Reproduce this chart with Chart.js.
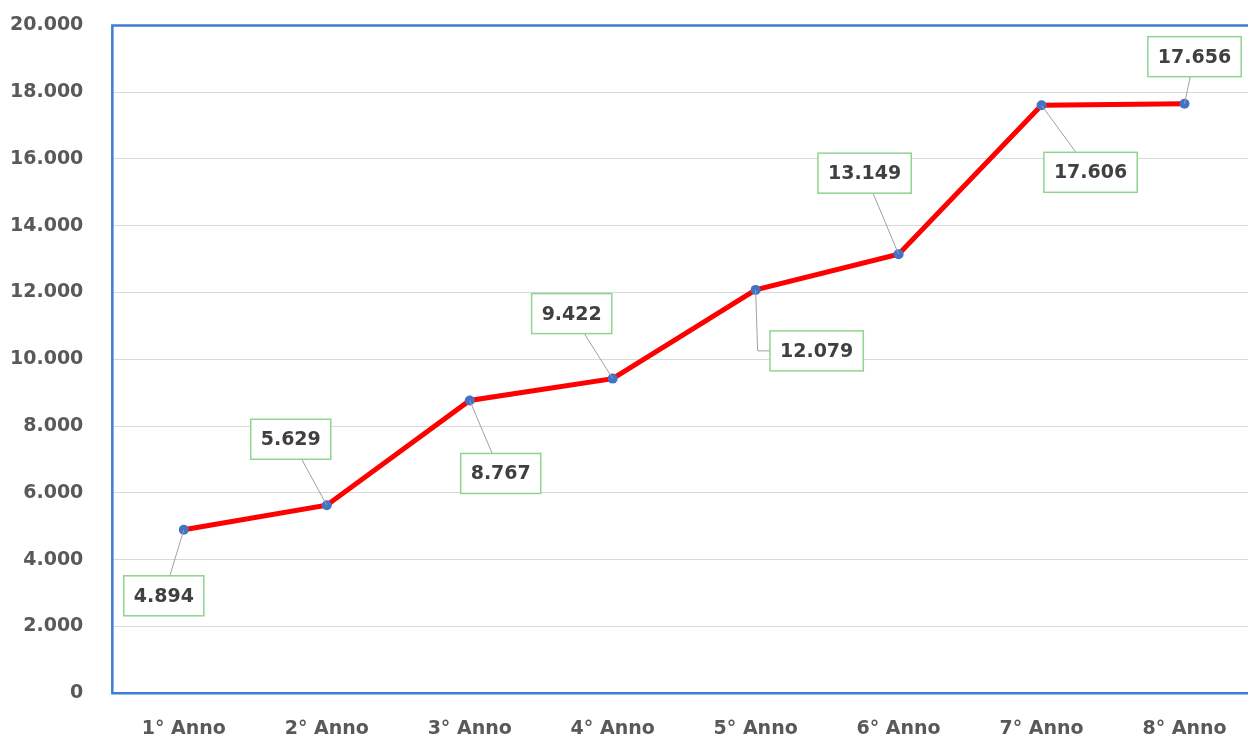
<!DOCTYPE html>
<html>
<head>
<meta charset="utf-8">
<script src="https://cdn.jsdelivr.net/npm/chart.js@4"></script>
<style>
  html, body { margin: 0; padding: 0; background: #fff; overflow: hidden; }
  #wrap { position: absolute; left: 0; top: -15px; width: 1262px; height: 755px; }
</style>
</head>
<body>
<div id="wrap"><canvas id="growthChart"></canvas></div>
<script>
const years = ["1° Anno", "2° Anno", "3° Anno", "4° Anno", "5° Anno", "6° Anno", "7° Anno", "8° Anno"];
const values = [4894, 5629, 8767, 9422, 12079, 13149, 17606, 17656];
const yTicks = [0, 2000, 4000, 6000, 8000, 10000, 12000, 14000, 16000, 18000, 20000];

// Italian number format: 12079 -> "12.079"
function fmt(v) {
  return String(v).replace(/\B(?=(\d{3})+(?!\d))/g, ".");
}

// blue frame around the plot area (left, top, bottom)
const frame = {
  id: "frame",
  beforeDatasetsDraw(chart) {
    const { ctx, chartArea: a } = chart;
    ctx.save();
    ctx.strokeStyle = "#3f7cd6";
    ctx.lineWidth = 2.5;
    ctx.beginPath();
    ctx.moveTo(a.right + 5, a.top);
    ctx.lineTo(a.left, a.top);
    ctx.lineTo(a.left, a.bottom);
    ctx.lineTo(a.right + 5, a.bottom);
    ctx.stroke();
    ctx.restore();
  },
};

// boxed data labels with leader lines
const boxLabels = {
  id: "boxLabels",
  afterDatasetsDraw(chart, args, opts) {
    const { ctx } = chart;
    const meta = chart.getDatasetMeta(0);
    ctx.save();
    ctx.font = "bold 19px 'DejaVu Sans'";
    meta.data.forEach((pt, i) => {
      const text = fmt(chart.data.datasets[0].data[i]);
      const off = opts.offsets[i];
      const w = ctx.measureText(text).width + 20;
      const h = 40;
      const cx = pt.x + off[0];
      const cy = pt.y + off[1];
      ctx.strokeStyle = "#a0a0a0";
      ctx.lineWidth = 1;
      ctx.beginPath();
      ctx.moveTo(pt.x, pt.y);
      if (opts.elbow.includes(i)) {
        // down, then across to the left side of the box
        ctx.lineTo(pt.x + 2, cy);
        ctx.lineTo(cx - w / 2, cy);
      } else {
        // straight: point -> box edge
        const dx = cx - pt.x, dy = cy - pt.y;
        const s = Math.min((w / 2) / Math.abs(dx || 1e-6), (h / 2) / Math.abs(dy || 1e-6));
        ctx.lineTo(cx - dx * s, cy - dy * s);
      }
      ctx.stroke();
      // box
      ctx.fillStyle = "#ffffff";
      ctx.fillRect(cx - w / 2, cy - h / 2, w, h);
      ctx.strokeStyle = "#8fd48f";
      ctx.lineWidth = 1.5;
      ctx.strokeRect(cx - w / 2, cy - h / 2, w, h);
      // text
      ctx.fillStyle = "#404040";
      ctx.textAlign = "center";
      ctx.textBaseline = "middle";
      ctx.fillText(text, cx, cy + 1);
    });
    ctx.restore();
  },
};

const ctx = document.getElementById("growthChart").getContext("2d");
new Chart(ctx, {
  type: "line",
  data: {
    labels: years,
    datasets: [
      {
        data: values,
        borderColor: "#ff0000",
        borderWidth: 5,
        tension: 0,
        fill: false,
        pointRadius: 5,
        pointBackgroundColor: "#4472c4",
        pointBorderWidth: 0,
      },
    ],
  },
  options: {
    responsive: true,
    maintainAspectRatio: false,
    animation: false,
    layout: { padding: { left: -19, top: 1, right: 6, bottom: -24 } },
    plugins: {
      legend: { display: false },
      tooltip: { enabled: false },
      boxLabels: {
        offsets: [[-20, 66], [-36, -66], [31, 73], [-41, -65], [61, 61], [-34, -81], [49, 67], [10, -47]],
        elbow: [4],
      },
    },
    scales: {
      x: {
        offset: true,
        grid: { display: false, drawTicks: false },
        border: { display: false },
        ticks: {
          color: "#595959",
          font: { family: "'DejaVu Sans'", size: 19, weight: "bold" },
          padding: 24,
          maxRotation: 0,
        },
      },
      y: {
        min: 0,
        max: 20000,
        afterBuildTicks(scale) {
          scale.ticks = yTicks.map((v) => ({ value: v }));
        },
        grid: { color: "#d9d9d9", lineWidth: 1, drawTicks: false },
        border: { display: false },
        ticks: {
          color: "#595959",
          font: { family: "'DejaVu Sans'", size: 19, weight: "bold" },
          padding: 29,
          callback: (v) => fmt(v),
        },
      },
    },
  },
  plugins: [frame, boxLabels],
});
</script>
</body>
</html>
